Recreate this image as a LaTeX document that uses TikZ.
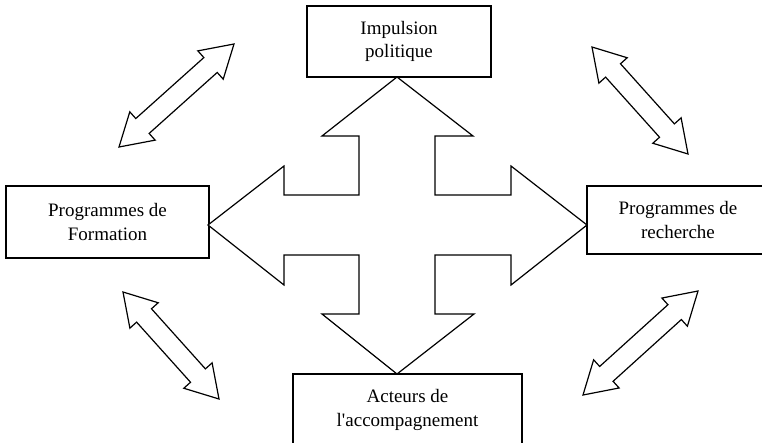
\documentclass[tikz,border=0pt]{standalone}
\usepackage{fontspec}
\setmainfont{Liberation Serif}[Ligatures=TeXOff]
\usetikzlibrary{calc}
\newcommand\dblarr[2]{%
  \path (#1) coordinate (da) (#2) coordinate (db);
  \path ($(da)!31.5pt!(db)$) coordinate (dh1) ($(db)!31.5pt!(da)$) coordinate (dh2);
  \draw[arr] (da) -- ($(dh1)!19pt!90:(da)$) -- ($(dh1)!10pt!90:(da)$)
    -- ($(dh2)!10pt!-90:(db)$) -- ($(dh2)!19pt!-90:(db)$) -- (db)
    -- ($(dh2)!19pt!90:(db)$) -- ($(dh2)!10pt!90:(db)$)
    -- ($(dh1)!10pt!-90:(da)$) -- ($(dh1)!19pt!-90:(da)$) -- cycle;}
\begin{document}
\begin{tikzpicture}[x=1pt,y=-1pt,line join=miter,
  box/.style={draw,line width=1.2pt,inner sep=0pt,align=center,font=\fontsize{19}{23.5}\selectfont},
  arr/.style={draw,line width=1.2pt,fill=white}]
\useasboundingbox (0,0) rectangle (762,442);
\clip (0,0) rectangle (762,442);
\node[box,minimum width=184pt,minimum height=71pt] (top) at (399,41.5) {Impulsion\\politique};
\node[box,minimum width=203pt,minimum height=72pt] (left) at (107.5,222) {Programmes de\\Formation};
\node[box,minimum width=182pt,minimum height=68pt] (right) at (678,220) {Programmes de\\recherche};
\node[box,minimum width=229pt,minimum height=72pt] (bottom) at (407.5,410) {Acteurs de\\l'accompagnement};
\draw[arr] (397,77) -- (473,136) -- (435,136) -- (435,195) -- (511,195) -- (511,166)
  -- (587,225) -- (511,285) -- (511,255) -- (435,255) -- (435,314) -- (474,314)
  -- (397,374) -- (322,314) -- (359,314) -- (359,255) -- (284,255) -- (284,285)
  -- (208,225) -- (284,166) -- (284,195) -- (359,195) -- (359,136) -- (322,136) -- cycle;
\dblarr{119,147}{234,44}
\dblarr{592,47}{688,154}
\dblarr{123,292}{219,399}
\dblarr{583,395}{698,291}
\end{tikzpicture}
\end{document}
